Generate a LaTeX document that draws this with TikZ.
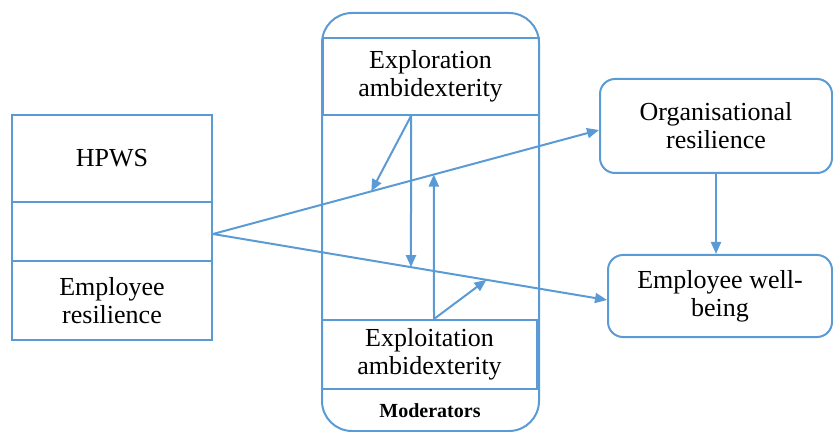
\documentclass[tikz,border=0pt]{standalone}
\usepackage{fontspec}
\setmainfont{LiberationSerif}[Extension=.ttf, UprightFont=*-Regular, BoldFont=*-Bold]
\usetikzlibrary{arrows.meta, positioning, calc}
\definecolor{LinkBlue}{HTML}{5B9BD5}

\begin{document}
\begin{tikzpicture}[x=0.5pt, y=-0.5pt, line width=1pt, >={Triangle[length=6pt, width=5pt]},
  every node/.style={font=\fontsize{13}{14}\selectfont, align=center, inner sep=0pt},
  panel/.style={draw=LinkBlue, minimum width=100pt},
  modbox/.style={draw=LinkBlue, minimum width=108pt},
  outbox/.style={draw=LinkBlue, rounded corners=7.5pt},
  link/.style={->, draw=LinkBlue}]
  \useasboundingbox (0,0) rectangle (833,432);
  % Moderators frame
  \node[draw=LinkBlue, rounded corners=15pt, minimum width=108.5pt, minimum height=209pt] (frame) at (430.5,222) {};
  \node[font=\fontsize{10}{12}\selectfont\bfseries] (modlabel) at (430,411) {Moderators};
  \node[modbox, minimum height=38.5pt] (explor) at (430.5,76.5) {Exploration\\ambidexterity};
  \node[modbox, minimum width=107.5pt, minimum height=34.5pt] (exploit) at (429.5,354.5) {Exploitation\\ambidexterity};
  % Left stack
  \node[panel, minimum height=43.5pt] (hpws) at (112,158.5) {HPWS};
  \node[panel, minimum height=29.5pt] (mid) at (112,231.5) {};
  \node[panel, minimum height=39.5pt] (empres) at (112,300.5) {Employee\\resilience};
  % Outcomes
  \node[outbox, minimum width=116pt, minimum height=47pt] (org) at (716,126) {Organisational\\resilience};
  \node[outbox, minimum width=112pt, minimum height=41pt] (wb) at (720,296) {Employee well-\\being};
  % Main paths
  \coordinate (src) at ($(mid.east)+(0,2.5)$);
  \coordinate (orgin) at ($(org.west)+(0,4)$);
  \coordinate (wbin) at ($(wb.west)+(0,4)$);
  \draw[link] (src) -- (orgin);
  \draw[link] (src) -- (wbin);
  \draw[link] (org.south) -- (org.south |- wb.north);
  % Moderating paths
  \coordinate (exA) at ($(explor.south)+(-19.5,0)$);
  \coordinate (exB) at ($(exploit.north)+(4.5,0)$);
  \draw[link] (exA) -- ($(src)!0.41!(orgin)$);
  \draw[link] (exA) -- ($(src)!0.5025!(wbin)$);
  \draw[link] (exB) -- ($(src)!0.572!(orgin)$);
  \draw[link] (exB) -- ($(src)!0.694!(wbin)$);
\end{tikzpicture}
\end{document}
